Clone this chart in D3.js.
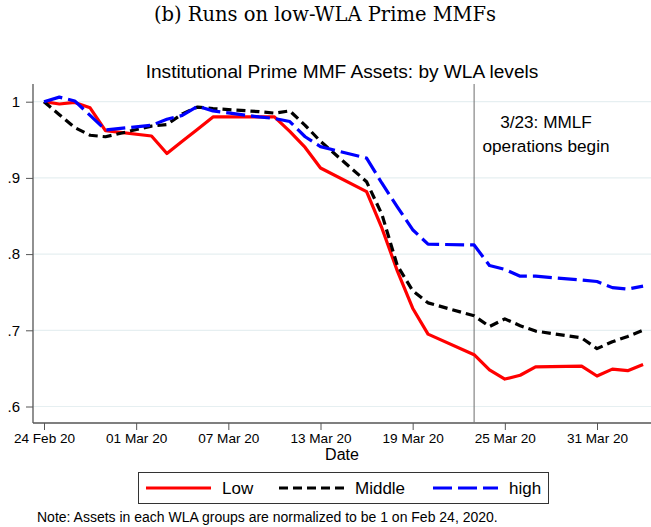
<!DOCTYPE html>
<html>
<head>
<meta charset="utf-8">
<script src="https://cdn.jsdelivr.net/npm/d3@7/dist/d3.min.js"></script>
<style>
  html, body { margin: 0; padding: 0; background: #ffffff; }
  svg { display: block; }
  text { font-family: "Liberation Sans", Arial, Helvetica, sans-serif; fill: #000; }
</style>
</head>
<body>
<svg id="chart" width="651" height="527"></svg>
<script>
// Business days covered by the series (weekends are skipped)
const dates = [
  "2020-02-24","2020-02-25","2020-02-26","2020-02-27","2020-02-28",
  "2020-03-02","2020-03-03","2020-03-04","2020-03-05","2020-03-06",
  "2020-03-09","2020-03-10","2020-03-11","2020-03-12","2020-03-13",
  "2020-03-16","2020-03-17","2020-03-18","2020-03-19","2020-03-20",
  "2020-03-23","2020-03-24","2020-03-25","2020-03-26","2020-03-27",
  "2020-03-30","2020-03-31","2020-04-01","2020-04-02","2020-04-03"
];

// Normalized assets by WLA group (1 = Feb 24, 2020)
const lowWLA = [
  1.000, 0.997, 0.999, 0.992, 0.962,
  0.955, 0.932, 0.948, 0.964, 0.980,
  0.980, 0.980, 0.961, 0.940, 0.913,
  0.882, 0.834, 0.778, 0.729, 0.695,
  0.668, 0.648, 0.636, 0.641, 0.652,
  0.653, 0.640, 0.649, 0.647, 0.655
];
const middleWLA = [
  1.000, 0.983, 0.966, 0.956, 0.954,
  0.968, 0.970, 0.984, 0.993, 0.991,
  0.987, 0.985, 0.988, 0.969, 0.948,
  0.895, 0.852, 0.785, 0.752, 0.736,
  0.719, 0.705, 0.715, 0.706, 0.699,
  0.690, 0.676, 0.685, 0.692, 0.700
];
const highWLA = [
  1.000, 1.006, 1.001, 0.982, 0.963,
  0.969, 0.977, 0.982, 0.994, 0.988,
  0.980, 0.978, 0.974, 0.954, 0.941,
  0.926, 0.893, 0.862, 0.832, 0.813,
  0.812, 0.785, 0.780, 0.771, 0.771,
  0.766, 0.764, 0.756, 0.754, 0.758
];

const seriesNames = ["Low", "Middle", "high"];
const seriesColors = ["#ff0000", "#000000", "#0000ff"];
const seriesDash = [null, "9,5", "19,6"];

const yTickValues = [0.6, 0.7, 0.8, 0.9, 1.0];
const xTickDates = ["2020-02-24","2020-03-01","2020-03-07","2020-03-13","2020-03-19","2020-03-25","2020-03-31"];
const eventDate = "2020-03-23";
const eventLabel = ["3/23: MMLF", "operations begin"];

const subTitle = "(b) Runs on low-WLA Prime MMFs";
const mainTitle = "Institutional Prime MMF Assets: by WLA levels";
const xTitle = "Date";
const noteText = "Note: Assets in each WLA groups are normalized to be 1 on Feb 24, 2020.";

// ---- layout ----
const parse = d3.utcParse("%Y-%m-%d");
const plot = { left: 33, right: 651, top: 84, bottom: 423 };

const x = d3.scaleUtc()
  .domain([parse("2020-02-24"), parse("2020-03-31")])
  .range([44, 597]);
const y = d3.scaleLinear()
  .domain([0.6, 1.0])
  .range([406.5, 101.7]);

const svg = d3.select("#chart");

// subtitle (caption style)
svg.append("text")
  .attr("x", 325).attr("y", 21)
  .attr("text-anchor", "middle")
  .style("font-family", "'DejaVu Serif', 'Liberation Serif', serif")
  .style("font-size", "19.5px")
  .text(subTitle);

// chart title
svg.append("text")
  .attr("x", 342).attr("y", 78)
  .attr("text-anchor", "middle")
  .style("font-size", "19.1px")
  .text(mainTitle);

// horizontal grid
svg.append("g")
  .selectAll("line")
  .data(yTickValues)
  .join("line")
  .attr("x1", plot.left).attr("x2", plot.right)
  .attr("y1", d => y(d)).attr("y2", d => y(d))
  .attr("stroke", "#e6eff1").attr("stroke-width", 1.2);

// y axis
const yAxis = d3.axisLeft(y)
  .tickValues(yTickValues)
  .tickSize(7)
  .tickPadding(6)
  .tickFormat(d => d === 1 ? "1" : d3.format(".1f")(d).replace(/^0/, ""));
const gy = svg.append("g")
  .attr("transform", `translate(${plot.left},0)`)
  .call(yAxis);
gy.select(".domain").remove();
gy.selectAll(".tick line").attr("stroke", "#555");
gy.selectAll(".tick text").style("font-size", "15px").style("font-family", "'Liberation Sans', Arial, sans-serif").attr("fill", "#000");
svg.append("line")
  .attr("x1", plot.left).attr("x2", plot.left)
  .attr("y1", plot.top).attr("y2", plot.bottom)
  .attr("stroke", "#555").attr("stroke-width", 1.3);

// x axis
const xAxis = d3.axisBottom(x)
  .tickValues(xTickDates.map(parse))
  .tickSize(7)
  .tickPadding(3)
  .tickFormat(d3.utcFormat("%d %b %y"));
const gx = svg.append("g")
  .attr("transform", `translate(0,${plot.bottom})`)
  .call(xAxis);
gx.select(".domain").remove();
gx.selectAll(".tick line").attr("stroke", "#555");
gx.selectAll(".tick text").style("font-size", "13.6px").style("font-family", "'Liberation Sans', Arial, sans-serif").attr("fill", "#000");
svg.append("line")
  .attr("x1", plot.left).attr("x2", plot.right)
  .attr("y1", plot.bottom).attr("y2", plot.bottom)
  .attr("stroke", "#555").attr("stroke-width", 1.3);

svg.append("text")
  .attr("x", 342).attr("y", 460)
  .attr("text-anchor", "middle")
  .style("font-size", "16px")
  .text(xTitle);

// event marker
const ex = x(parse(eventDate));
svg.append("line")
  .attr("x1", ex).attr("x2", ex)
  .attr("y1", plot.top).attr("y2", plot.bottom)
  .attr("stroke", "#7a7a7a").attr("stroke-width", 1.1);
svg.append("g")
  .selectAll("text")
  .data(eventLabel)
  .join("text")
  .attr("x", 546)
  .attr("y", (d, i) => 128 + i * 24)
  .attr("text-anchor", "middle")
  .style("font-size", "17.2px")
  .text(d => d);

// series lines
const values = [lowWLA, middleWLA, highWLA];
const line = d3.line()
  .x(d => x(d.date))
  .y(d => y(d.value));

values.forEach((vals, i) => {
  const pts = dates.map((d, j) => ({ date: parse(d), value: vals[j] }));
  svg.append("path")
    .datum(pts)
    .attr("fill", "none")
    .attr("stroke", seriesColors[i])
    .attr("stroke-width", 3.2)
    .attr("stroke-dasharray", seriesDash[i])
    .attr("stroke-linejoin", "round")
    .attr("d", line);
});

// legend
const legend = svg.append("g");
legend.append("rect")
  .attr("x", 138.5).attr("y", 472.5)
  .attr("width", 410).attr("height", 31)
  .attr("fill", "#fff").attr("stroke", "#333").attr("stroke-width", 1);
const legendX = [146, 279, 433];
seriesNames.forEach((name, i) => {
  legend.append("line")
    .attr("x1", legendX[i]).attr("x2", legendX[i] + 65)
    .attr("y1", 488).attr("y2", 488)
    .attr("stroke", seriesColors[i])
    .attr("stroke-width", 3.2)
    .attr("stroke-dasharray", seriesDash[i]);
  legend.append("text")
    .attr("x", legendX[i] + 76).attr("y", 494)
    .style("font-size", "17px")
    .text(name);
});

// footnote
svg.append("text")
  .attr("x", 37).attr("y", 522)
  .style("font-size", "14px")
  .text(noteText);
</script>
</body>
</html>
